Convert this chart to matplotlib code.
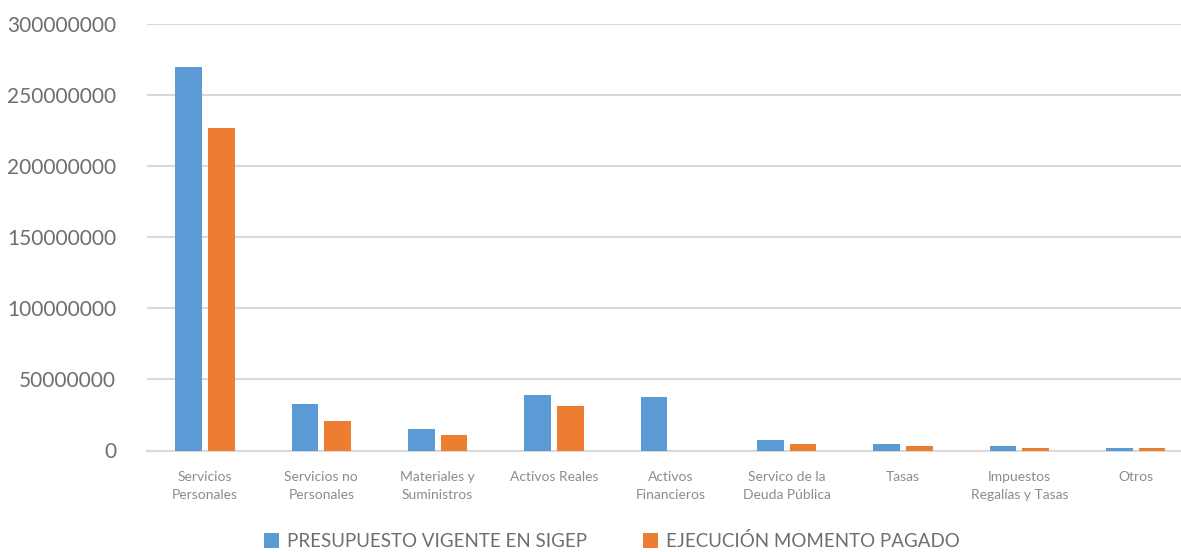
import matplotlib
matplotlib.use("Agg")
import matplotlib.pyplot as plt
import numpy as np

categorias = [
    "Servicios\nPersonales",
    "Servicios no\nPersonales",
    "Materiales y\nSuministros",
    "Activos Reales",
    "Activos\nFinancieros",
    "Servico de la\nDeuda Pública",
    "Tasas",
    "Impuestos\nRegalías y Tasas",
    "Otros",
]
presupuesto = [269.5e6, 32.9e6, 14.8e6, 38.7e6, 37.3e6, 7.5e6, 4.7e6, 3.0e6, 1.6e6]
ejecucion = [226.6e6, 20.9e6, 10.6e6, 31.2e6, 0, 4.7e6, 3.0e6, 1.6e6, 1.6e6]
yticks = [0, 50000000, 100000000, 150000000, 200000000, 250000000, 300000000]

plt.rcParams['font.family'] = ['Lato', 'DejaVu Sans']

fig = plt.figure(figsize=(11.81, 5.52), dpi=100)
# axes runs a bit past the right edge, like the cropped original
ax = fig.add_axes([146.8 / 1181, 101.5 / 552, 1047 / 1181, 426.5 / 552])

x = np.arange(len(categorias))
w = 0.23
ax.bar(x - 0.14, presupuesto, w, color="#5b9bd5", label="PRESUPUESTO VIGENTE EN SIGEP", zorder=3)
ax.bar(x + 0.14, ejecucion, w, color="#ed7d31", label="EJECUCIÓN MOMENTO PAGADO", zorder=3)

ax.set_xlim(-0.5, len(categorias) - 0.5)
ax.set_ylim(0, 300000000)
ax.set_yticks(yticks)
ax.set_yticklabels([str(v) for v in yticks])
ax.set_xticks(x)
ax.set_xticklabels(categorias, fontsize=10, color="#8c8c8c", linespacing=1.55)

ax.grid(axis="y", color="#d9d9d9", linewidth=1.5, zorder=0)
for s in ["top", "right", "left"]:
    ax.spines[s].set_visible(False)
ax.spines["bottom"].set_color("#d9d9d9")
ax.spines["bottom"].set_linewidth(1.5)
ax.tick_params(axis="y", length=0, pad=22, labelsize=15, labelcolor="#6e6e6e")
ax.tick_params(axis="x", length=0, pad=15)

fig.legend(loc="center", bbox_to_anchor=(612 / 1181, 1 - 541 / 552), ncol=2,
           frameon=False, fontsize=13.5, labelcolor="#6e6e6e",
           handlelength=0.8, handleheight=0.8, handletextpad=0.4, columnspacing=3.0)

fig.savefig("out.png", dpi=100)
